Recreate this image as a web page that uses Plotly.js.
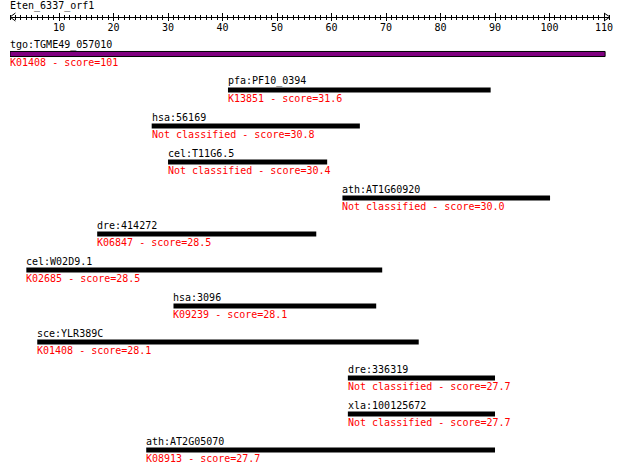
<!DOCTYPE html>
<html>
<head>
<meta charset="utf-8">
<script src="https://cdn.plot.ly/plotly-3.0.1.min.js"></script>
<style>html,body{margin:0;padding:0;background:#fff;}#chart{width:620px;height:473px;}</style>
</head>
<body>
<div id="chart"></div>
<script>
// ---- data ----
var queryName = "Eten_6337_orf1";
var queryLength = 110;
var genes = ["tgo:TGME49_057010","pfa:PF10_0394","hsa:56169","cel:T11G6.5","ath:AT1G60920",
             "dre:414272","cel:W02D9.1","hsa:3096","sce:YLR389C","dre:336319","xla:100125672","ath:AT2G05070"];
var koLabels = ["K01408","K13851","Not classified","Not classified","Not classified",
                "K06847","K02685","K09239","K01408","Not classified","Not classified","K08913"];
var scores = ["101","31.6","30.8","30.4","30.0","28.5","28.5","28.1","28.1","27.7","27.7","27.7"];
var starts = [1, 41, 27, 30, 62, 17, 4, 31, 6, 63, 63, 26];
var ends   = [110.2, 89.2, 65.2, 59.2, 100.1, 57.2, 69.3, 68.2, 76, 90, 90, 90];
var rulerTicks = [10,20,30,40,50,60,70,80,90,100,110];

// ---- build ----
var FONT = "DejaVu Sans Mono, monospace";
var rows = genes.map(function(_, i){ return i; });
var lengths = starts.map(function(s, i){ return ends[i] - s; });
var colors = genes.map(function(_, i){ return i === 0 ? "#800080" : "#000000"; });
var lineW = genes.map(function(_, i){ return i === 0 ? 1 : 0; });

var bars = {
  type: "bar", orientation: "h",
  x: lengths, base: starts, y: rows,
  width: 0.14,
  marker: {color: colors, line: {color: "#000", width: lineW}},
  hoverinfo: "skip", showlegend: false, xaxis: "x", yaxis: "y"
};

var annotations = [];
genes.forEach(function(g, i){
  annotations.push({x: starts[i], y: rows[i], xref: "x", yref: "y", text: g,
    showarrow: false, xanchor: "left", yanchor: "bottom", yshift: 1, xshift: -2,
    font: {family: FONT, size: 10, color: "#000"}});
  annotations.push({x: starts[i], y: rows[i], xref: "x", yref: "y",
    text: koLabels[i] + " - score=" + scores[i],
    showarrow: false, xanchor: "left", yanchor: "top", yshift: -1, xshift: -2,
    font: {family: FONT, size: 10, color: "#ff0000"}});
});
var rulerPos = 1 - 17/473;
annotations.push({x: 1, y: rulerPos, xref: "x", yref: "paper", text: queryName,
  showarrow: false, xanchor: "left", yanchor: "bottom", xshift: -2, yshift: 3,
  font: {family: FONT, size: 10, color: "#000"}});

var dy = 4/473;
var shapes = [
  {type: "path", xref: "x", yref: "paper",
   path: "M 2," + (rulerPos + dy) + " L 1," + rulerPos + " L 2," + (rulerPos - dy),
   line: {color: "#000", width: 1}},
  {type: "path", xref: "x", yref: "paper",
   path: "M " + (queryLength) + "," + (rulerPos + dy) + " L " + (queryLength + 1.1) + "," + rulerPos + " L " + queryLength + "," + (rulerPos - dy),
   line: {color: "#000", width: 1}}
];

var xr = [1, queryLength + 1.1];
var layout = {
  width: 620, height: 473,
  margin: {l: 0, r: 0, t: 0, b: 0, pad: 0},
  paper_bgcolor: "#fff", plot_bgcolor: "#fff",
  showlegend: false,
  xaxis: {domain: [10/620, 610/620], range: xr, anchor: "free", position: rulerPos, side: "bottom",
    showgrid: false, zeroline: false, showline: true, linecolor: "#000", linewidth: 1,
    ticks: "outside", ticklen: 3, tickwidth: 1, tickcolor: "#000",
    tickmode: "array", tickvals: rulerTicks, ticktext: rulerTicks.map(String),
    ticklabelstandoff: -2,
    tickfont: {family: FONT, size: 10, color: "#000"},
    minor: {tickmode: "linear", tick0: 0, dtick: 1, ticks: "outside", ticklen: 2, tickwidth: 1, tickcolor: "#000", showgrid: false},
    fixedrange: true},
  xaxis2: {domain: [10/620, 610/620], range: xr, overlaying: "x", anchor: "free", position: rulerPos, side: "top",
    showgrid: false, zeroline: false, showline: false, showticklabels: false,
    ticks: "outside", ticklen: 4, tickwidth: 1, tickcolor: "#000",
    tickmode: "array", tickvals: rulerTicks,
    minor: {tickmode: "linear", tick0: 0, dtick: 1, ticks: "outside", ticklen: 2, tickwidth: 1, tickcolor: "#000", showgrid: false},
    fixedrange: true},
  yaxis: {domain: [0, 1], range: [(473 - 54)/36, -54/36], visible: false, fixedrange: true},
  bargap: 0,
  annotations: annotations,
  shapes: shapes
};

var dummy = {type: "scatter", x: [1], y: [0], xaxis: "x2", yaxis: "y", mode: "markers",
  marker: {opacity: 0}, hoverinfo: "skip", showlegend: false};

Plotly.newPlot("chart", [bars, dummy], layout, {staticPlot: true, displayModeBar: false});
</script>
</body>
</html>
